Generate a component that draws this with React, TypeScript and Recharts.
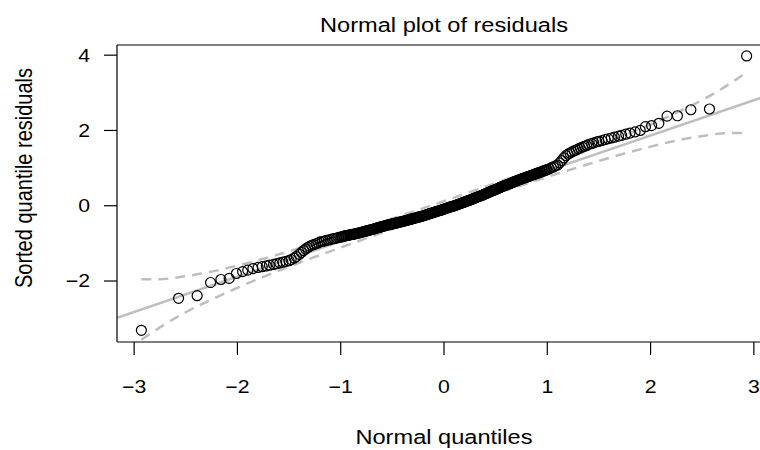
import { ComposedChart, Scatter, Line, XAxis, YAxis, ReferenceLine } from "recharts"

// theoretical normal quantiles (x) and sorted quantile residuals (y)
const quantiles = [
  -2.93, -2.57, -2.39, -2.26, -2.16, -2.08, -2.01, -1.95, -1.9, -1.85, -1.8, -1.76, -1.72, -1.69, -1.65, -1.62,
  -1.59, -1.56, -1.53, -1.5, -1.48, -1.45, -1.43, -1.4, -1.38, -1.36, -1.34, -1.32, -1.3, -1.28, -1.26, -1.24, -1.22,
  -1.2, -1.18, -1.16, -1.14, -1.12, -1.1, -1.08, -1.06, -1.04, -1.02,
  -1.0, -0.99, -0.98, -0.97, -0.96, -0.95, -0.94, -0.93, -0.92, -0.91, -0.9, -0.89, -0.88, -0.87, -0.86, -0.85,
  -0.84, -0.83, -0.82, -0.81, -0.8, -0.79, -0.78, -0.77, -0.76, -0.75, -0.74, -0.73, -0.72, -0.71, -0.7, -0.69,
  -0.68, -0.67, -0.66, -0.65, -0.64, -0.63, -0.62, -0.61, -0.6, -0.59, -0.58, -0.57, -0.56, -0.55, -0.54, -0.53,
  -0.52, -0.51, -0.5, -0.49, -0.48, -0.47, -0.46, -0.45, -0.44, -0.43, -0.42, -0.41, -0.4, -0.39, -0.38, -0.37,
  -0.36, -0.35, -0.34, -0.33, -0.32, -0.31, -0.3, -0.29, -0.28, -0.27, -0.26, -0.25, -0.24, -0.23, -0.22, -0.21,
  -0.2, -0.19, -0.18, -0.17, -0.16, -0.15, -0.14, -0.13, -0.12, -0.11, -0.1, -0.09, -0.08, -0.07, -0.06, -0.05,
  -0.04, -0.03, -0.02, -0.01, 0.0, 0.01, 0.02, 0.03, 0.04, 0.05, 0.06, 0.07, 0.08, 0.09, 0.1, 0.11,
  0.12, 0.13, 0.14, 0.15, 0.16, 0.17, 0.18, 0.19, 0.2, 0.21, 0.22, 0.23, 0.24, 0.25, 0.26, 0.27,
  0.28, 0.29, 0.3, 0.31, 0.32, 0.33, 0.34, 0.35, 0.36, 0.37, 0.38, 0.39, 0.4, 0.41, 0.42, 0.43,
  0.44, 0.45, 0.46, 0.47, 0.48, 0.49, 0.5, 0.51, 0.52, 0.53, 0.54, 0.55, 0.56, 0.57, 0.58, 0.59,
  0.6, 0.61, 0.62, 0.63, 0.64, 0.65, 0.66, 0.67, 0.68, 0.69, 0.7, 0.71, 0.72, 0.73, 0.74, 0.75,
  0.76, 0.77, 0.78, 0.79, 0.8, 0.81, 0.82, 0.83, 0.84, 0.85, 0.86, 0.87, 0.88, 0.89, 0.9, 0.91,
  0.92, 0.93, 0.94, 0.95, 0.96, 0.97, 0.98, 0.99, 1.0,
  1.02, 1.04, 1.06, 1.08, 1.1, 1.12, 1.14, 1.16, 1.18, 1.2,
  1.22, 1.24, 1.26, 1.28, 1.3, 1.32, 1.34, 1.36, 1.38, 1.4, 1.43, 1.45, 1.48, 1.5, 1.53, 1.56, 1.59, 1.62, 1.65,
  1.69, 1.72, 1.76, 1.8, 1.85, 1.9, 1.95, 2.01, 2.08, 2.16, 2.26, 2.39, 2.57, 2.93,
]

const residuals = [
  -3.31, -2.46, -2.39, -2.04, -1.96, -1.93, -1.8, -1.75, -1.71, -1.67, -1.64, -1.62, -1.6, -1.58, -1.56, -1.54,
  -1.52, -1.5, -1.48, -1.46, -1.43, -1.39, -1.35, -1.29, -1.24, -1.19, -1.15, -1.11, -1.08, -1.05, -1.03, -1.01, -0.99,
  -0.96, -0.95, -0.94, -0.92, -0.91, -0.9, -0.88, -0.87, -0.86, -0.84,
  -0.83, -0.825, -0.818, -0.81, -0.802, -0.796, -0.79, -0.785, -0.779, -0.774, -0.768, -0.763, -0.758, -0.752, -0.746, -0.738,
  -0.731, -0.725, -0.719, -0.713, -0.706, -0.698, -0.69, -0.684, -0.677, -0.669, -0.661, -0.655, -0.648, -0.639, -0.631, -0.625,
  -0.618, -0.609, -0.6, -0.592, -0.584, -0.577, -0.57, -0.561, -0.552, -0.546, -0.539, -0.53, -0.521, -0.515, -0.509, -0.504,
  -0.498, -0.49, -0.482, -0.476, -0.47, -0.465, -0.458, -0.449, -0.441, -0.436, -0.43, -0.425, -0.418, -0.409, -0.401, -0.396,
  -0.389, -0.38, -0.371, -0.365, -0.358, -0.349, -0.341, -0.335, -0.328, -0.319, -0.31, -0.305, -0.298, -0.289, -0.28, -0.275,
  -0.268, -0.259, -0.25, -0.24, -0.231, -0.221, -0.211, -0.204, -0.197, -0.188, -0.179, -0.169, -0.16, -0.15, -0.14, -0.134,
  -0.127, -0.118, -0.109, -0.099, -0.09, -0.08, -0.07, -0.06, -0.05, -0.041, -0.032, -0.026, -0.019, -0.01, -0.001, 0.01,
  0.02, 0.03, 0.04, 0.05, 0.06, 0.07, 0.08, 0.09, 0.1, 0.11, 0.12, 0.13, 0.14, 0.15, 0.16, 0.17,
  0.181, 0.195, 0.207, 0.217, 0.228, 0.239, 0.249, 0.259, 0.27, 0.28, 0.291, 0.304, 0.317, 0.328, 0.339, 0.35,
  0.362, 0.375, 0.388, 0.399, 0.41, 0.42, 0.431, 0.445, 0.458, 0.469, 0.48, 0.494, 0.507, 0.518, 0.529, 0.539,
  0.55, 0.56, 0.571, 0.58, 0.59, 0.601, 0.612, 0.625, 0.638, 0.649, 0.659, 0.669, 0.68, 0.69, 0.7, 0.71,
  0.72, 0.73, 0.74, 0.75, 0.76, 0.77, 0.78, 0.79, 0.8, 0.81, 0.82, 0.83, 0.84, 0.85, 0.86, 0.87,
  0.88, 0.89, 0.9, 0.91, 0.92, 0.93, 0.94, 0.95, 0.96,
  0.98, 1.01, 1.03, 1.06, 1.08, 1.14, 1.2, 1.27, 1.33, 1.37,
  1.4, 1.43, 1.46, 1.48, 1.51, 1.53, 1.56, 1.58, 1.6, 1.63, 1.65, 1.67, 1.7, 1.71, 1.73, 1.76, 1.78, 1.8, 1.82,
  1.85, 1.87, 1.9, 1.93, 1.96, 2.0, 2.1, 2.13, 2.19, 2.38, 2.39, 2.55, 2.57, 3.98,
]

// reference line (drawn across the whole plot region)
const fitX = [-3.166, 3.166]
const fitY = [-2.977, 2.957]

// pointwise confidence envelope
const envX = [-2.93, -2.75, -2.5, -2.25, -2.0, -1.75, -1.5, -1.25, -1.0, -0.5, 0, 0.5, 1.0, 1.25, 1.5, 1.75, 2.0, 2.25, 2.5, 2.75, 2.93]
const envUpper = [-1.95, -1.95, -1.87, -1.75, -1.59, -1.41, -1.21, -1.0, -0.785, -0.34, 0.124, 0.6, 1.09, 1.34, 1.6, 1.87, 2.16, 2.47, 2.81, 3.21, 3.55]
const envLower = [-3.56, -3.23, -2.83, -2.49, -2.18, -1.89, -1.62, -1.36, -1.11, -0.62, -0.144, 0.32, 0.765, 0.98, 1.19, 1.39, 1.57, 1.73, 1.85, 1.93, 1.93]

const xTicks = [-3, -2, -1, 0, 1, 2, 3]
const yTicks = [-2, 0, 2, 4]

const X_DOMAIN: [number, number] = [-3.166, 3.166]
const Y_DOMAIN: [number, number] = [-3.62, 4.27]

const FONT = "'Liberation Sans', Arial, Helvetica, sans-serif"
const GREY = "#bebebe"
const STRETCH = 1.18

const points = quantiles.map((x, i) => ({ x, y: residuals[i] }))
const fitData = fitX.map((x, i) => ({ x, y: fitY[i] }))
const upperData = envX.map((x, i) => ({ x, y: envUpper[i] }))
const lowerData = envX.map((x, i) => ({ x, y: envLower[i] }))

const minus = (v: number) => String(v).replace("-", "\u2212")

const Ring = (props: any) => {
  const { cx, cy } = props
  if (cx == null || cy == null) return null
  return <circle cx={cx} cy={cy} r={5} fill="none" stroke="#000" strokeWidth={1.2} />
}

const XTick = (props: any) => {
  const { x, y, payload } = props
  return (
    <text transform={`translate(${x},${y}) scale(${STRETCH},1)`} textAnchor="middle" dy="0.71em" fontSize={18} fontFamily={FONT} fill="#000">
      {minus(payload.value)}
    </text>
  )
}

const YTick = (props: any) => {
  const { x, y, payload } = props
  return (
    <text transform={`translate(${x},${y}) scale(${STRETCH},1)`} textAnchor="end" dy="0.355em" fontSize={18} fontFamily={FONT} fill="#000">
      {minus(payload.value)}
    </text>
  )
}

const label = {
  position: "absolute" as const,
  width: 400,
  textAlign: "center" as const,
  fontSize: 20,
  lineHeight: "26px",
  color: "#000",
  whiteSpace: "nowrap" as const,
}

export default function App() {
  return (
    <div
      style={{
        position: "fixed",
        left: 0,
        top: 0,
        width: 760,
        height: 450,
        overflow: "hidden",
        background: "#fff",
        fontFamily: FONT,
      }}
    >
      <ComposedChart width={780} height={450} margin={{ top: 45, right: 9, bottom: 68, left: 0 }}>
        <XAxis
          type="number"
          dataKey="x"
          domain={X_DOMAIN}
          allowDataOverflow
          ticks={xTicks}
          height={40}
          tickSize={13}
          tickMargin={25}
          axisLine={{ stroke: "#000", strokeWidth: 1.2 }}
          tickLine={{ stroke: "#000", strokeWidth: 1.2 }}
          tick={<XTick />}
        />
        <YAxis
          type="number"
          dataKey="y"
          domain={Y_DOMAIN}
          allowDataOverflow
          ticks={yTicks}
          width={117}
          tickSize={13}
          tickMargin={14}
          axisLine={{ stroke: "#000", strokeWidth: 1.2 }}
          tickLine={{ stroke: "#000", strokeWidth: 1.2 }}
          tick={<YTick />}
        />
        <ReferenceLine y={Y_DOMAIN[1]} stroke="#000" strokeWidth={1.2} />
        <Scatter data={points} shape={<Ring />} isAnimationActive={false} />
        <Line data={fitData} dataKey="y" type="linear" stroke={GREY} strokeWidth={2.5} dot={false} isAnimationActive={false} />
        <Line data={upperData} dataKey="y" type="monotone" stroke={GREY} strokeWidth={2.5} strokeDasharray="10 7" dot={false} isAnimationActive={false} />
        <Line data={lowerData} dataKey="y" type="monotone" stroke={GREY} strokeWidth={2.5} strokeDasharray="10 7" dot={false} isAnimationActive={false} />
      </ComposedChart>

      <div style={{ ...label, left: 244, top: 12, transform: `scaleX(${STRETCH})` }}>Normal plot of residuals</div>
      <div style={{ ...label, left: 244, top: 424, transform: `scaleX(${STRETCH})` }}>Normal quantiles</div>
      <div style={{ ...label, left: 24 - 200, top: 178 - 13, transform: `rotate(-90deg) scaleY(${STRETCH})` }}>
        Sorted quantile residuals
      </div>
    </div>
  )
}
